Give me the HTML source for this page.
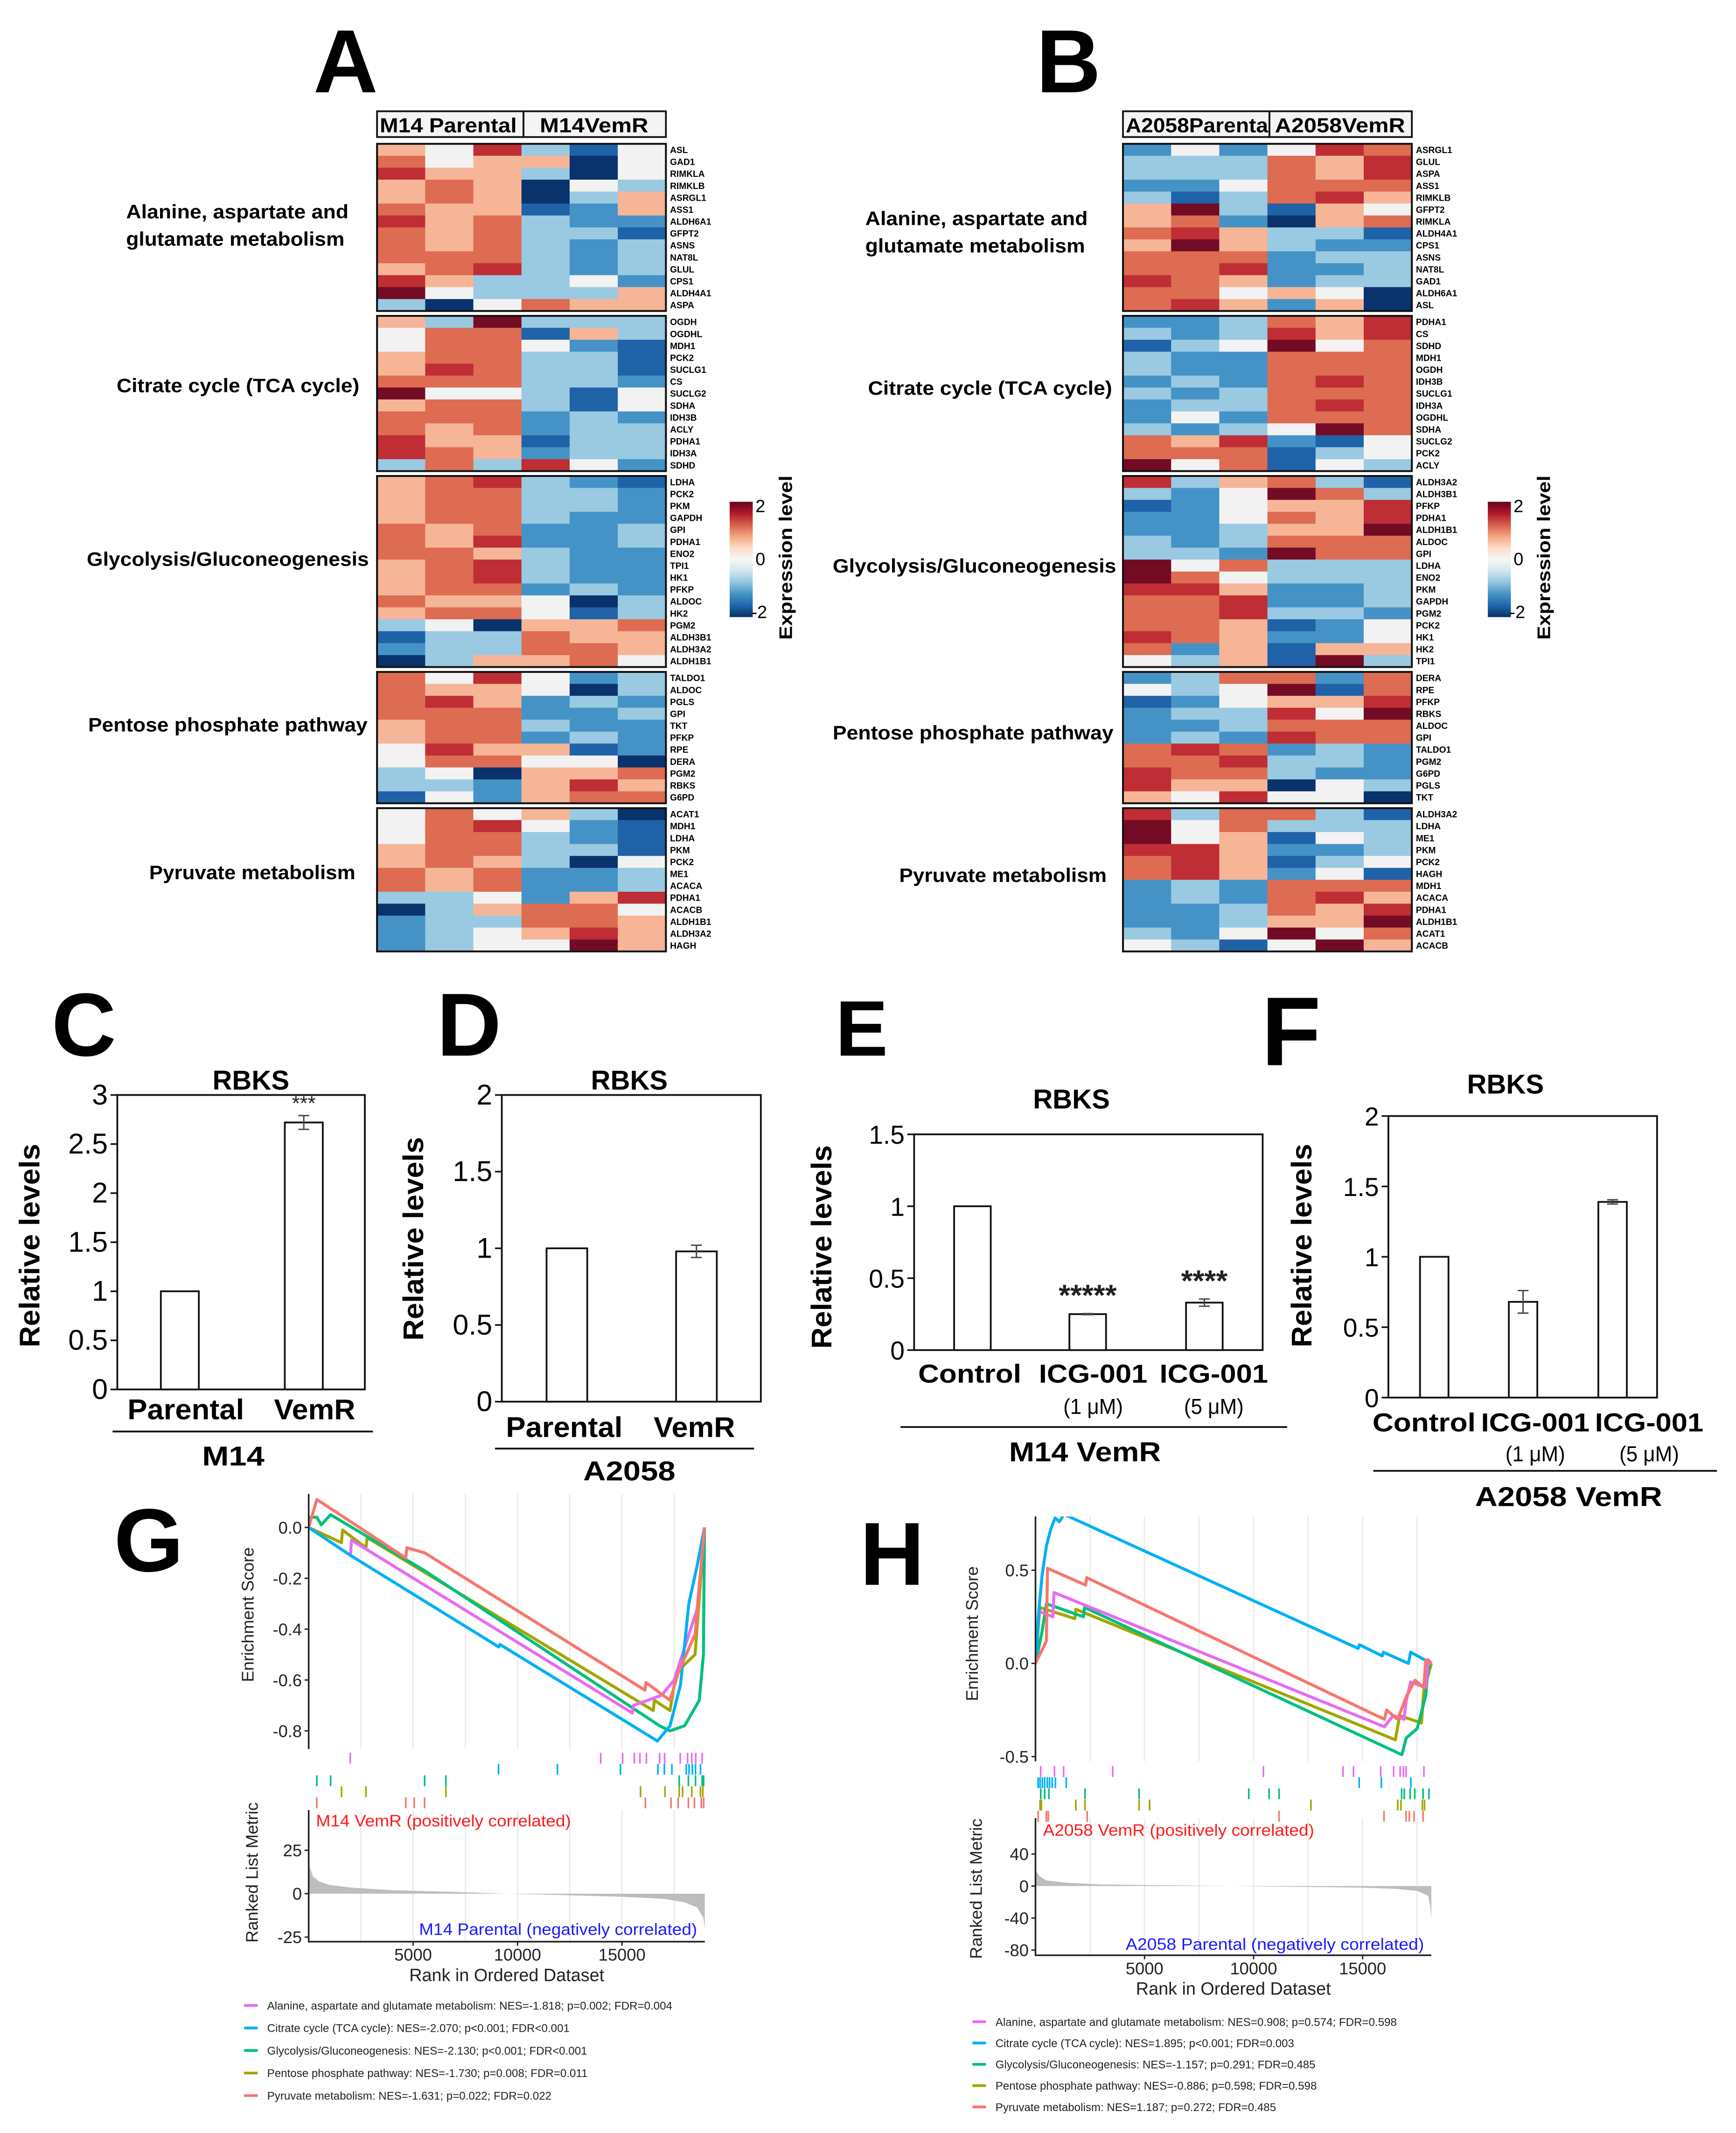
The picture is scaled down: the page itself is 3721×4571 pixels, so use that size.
<!DOCTYPE html>
<html><head><meta charset="utf-8"><style>
html,body{margin:0;padding:0;background:#fff;}
svg{display:block;}
text{font-family:"Liberation Sans",Arial,sans-serif;}
</style></head><body>
<svg id="fig" xmlns="http://www.w3.org/2000/svg" width="3721" height="4571" viewBox="0 0 1280 1572" preserveAspectRatio="none">
<rect x="0" y="0" width="1280" height="1572" fill="#fff"/>
</svg>
<script>
// ---------- Heatmap data (A: M14) ----------
const pathNames = ["Alanine, aspartate and glutamate metabolism","Citrate cycle (TCA cycle)","Glycolysis/Gluconeogenesis","Pentose phosphate pathway","Pyruvate metabolism"];
const levelScale = ["A","B","C","D","E","F","G","H","I"]; // -2 .. 2 step 0.5
const levelValues = [-2,-1.5,-1,-0.5,0,0.5,1,1.5,2];
const hmA_genes1 = ["ASL","GAD1","RIMKLA","RIMKLB","ASRGL1","ASS1","ALDH6A1","GFPT2","ASNS","NAT8L","GLUL","CPS1","ALDH4A1","ASPA"];
const hmA_data1 = ["FEHDBE","GEFFAE","HFFDAE","FGFAED","FGFADF","GFFBCF","HFGDCC","GFGDDB","GFGDCD","GGGDCD","FGHDCD","HFDDEC","IEDDDF","DAEGFF"];
const hmA_genes2 = ["OGDH","OGDHL","MDH1","PCK2","SUCLG1","CS","SUCLG2","SDHA","IDH3B","ACLY","PDHA1","IDH3A","SDHD"];
const hmA_data2 = ["FDIDDD","EGGBFD","EGGECB","FGGDDB","FHGDDB","GGGDDC","IEEDBE","FGGDBE","GGGCDC","GFGCDD","HFFBDD","HGFCDD","DGDHEC"];
const hmA_genes3 = ["LDHA","PCK2","PKM","GAPDH","GPI","PDHA1","ENO2","TPI1","HK1","PFKP","ALDOC","HK2","PGM2","ALDH3B1","ALDH3A2","ALDH1B1"];
const hmA_data3 = ["FGHDCB","FGGDDC","FGGDDC","FGGDCC","GFGCCD","GFHCCD","GGFDCC","FGHDCC","FGHDCC","FGGCDC","GFFEAD","FGGEBD","DEAFFG","BDDGFF","CDDGGF","ADFFGE"];
const hmA_genes4 = ["TALDO1","ALDOC","PGLS","GPI","TKT","PFKP","RPE","DERA","PGM2","RBKS","G6PD"];
const hmA_data4 = ["GEHECD","GFFEAD","GHFCDC","GGGCCD","FGGDCC","FGGCDC","EHFFBC","EGGEEA","DEAFFG","DDCFHF","BECFGG"];
const hmA_genes5 = ["ACAT1","MDH1","LDHA","PKM","PCK2","ME1","ACACA","PDHA1","ACACB","ALDH1B1","ALDH3A2","HAGH"];
const hmA_data5 = ["EGEFDA","EGHECB","EGGDCB","FGGDDB","FGFDAE","GFGCCD","GFGCCD","DDECFH","ADFGGE","CDDGGF","CDEFHF","CDEEIF"];
// ---------- Heatmap data (B: A2058) ----------
const hmB_genes1 = ["ASRGL1","GLUL","ASPA","ASS1","RIMKLB","GFPT2","RIMKLA","ALDH4A1","CPS1","ASNS","NAT8L","GAD1","ALDH6A1","ASL"];
const hmB_data1 = ["CECEHG","DDDGFH","DDDGFH","CCEGGG","DBDGHF","FIDBFE","FGCAFG","GHFDDB","FIFDCC","GGGCDD","GGHCCD","HGFCDD","GGEFEA","GHFCFA"];
const hmB_genes2 = ["PDHA1","CS","SDHD","MDH1","OGDH","IDH3B","SUCLG1","IDH3A","OGDHL","SDHA","SUCLG2","PCK2","ACLY"];
const hmB_data2 = ["CCDGFH","DCDHFH","BDEIEG","DCCGGG","DCCGGG","CDCGHG","DCDGGG","CDDGHG","CECGGG","DCDEIG","GFHCBE","GGGBDE","IEGBED"];
const hmB_genes3 = ["ALDH3A2","ALDH3B1","PFKP","PDHA1","ALDH1B1","ALDOC","GPI","LDHA","ENO2","PKM","GAPDH","PGM2","PCK2","HK1","HK2","TPI1"];
const hmB_data3 = ["HDFGDB","DCEIGD","BCEFFH","CCEGFH","CCDFFI","DCDGGG","DDCIGG","IEGDDD","IGEDDD","HHFCCD","GGHCCD","GGHDDC","GGFBCE","HGFCCE","GCFBFF","EDFBID"];
const hmB_genes4 = ["DERA","RPE","PFKP","RBKS","ALDOC","GPI","TALDO1","PGM2","G6PD","PGLS","TKT"];
const hmB_data4 = ["CDGGCG","EDEIBG","BCEFFH","CDDHEI","CCDGGG","CDCHGG","GHGCDC","GGHDDC","HGGDCC","HFFAED","FEHEEA"];
const hmB_genes5 = ["ALDH3A2","LDHA","ME1","PKM","PCK2","HAGH","MDH1","ACACA","PDHA1","ALDH1B1","ACAT1","ACACB"];
const hmB_data5 = ["HDGGDB","IEGDDD","IEFBED","HHFCCD","GHFBDE","GHFCEB","CDCGGG","CDCGHF","CCDGFH","CCDFFI","DCEIEG","EDBEIF"];

// ---------- Bar chart data ----------
const cCats = ["Parental","VemR"];
const cVals = [1.0, 2.72];
const cErr = [0, 0.07];
const cSig = ["", "***"];
const cTicks = ["0","0.5","1","1.5","2","2.5","3"];
const dCats = ["Parental","VemR"];
const dVals = [1.0, 0.98];
const dErr = [0, 0.04];
const dSig = ["", ""];
const dTicks = ["0","0.5","1","1.5","2"];
const eCats = ["Control","ICG-001","ICG-001"];
const eSub = ["","(1  μM)","(5  μM)"];
const eVals = [1.0, 0.25, 0.33];
const eErr = [0, 0.004, 0.025];
const eSig = ["", "*****", "****"];
const eTicks = ["0","0.5","1","1.5"];
const fCats = ["Control","ICG-001","ICG-001"];
const fSub = ["","(1  μM)","(5  μM)"];
const fVals = [1.0, 0.68, 1.39];
const fErr = [0, 0.08, 0.015];
const fSig = ["", "", ""];
const fTicks = ["0","0.5","1","1.5","2"];

// ---------- GSEA G (M14) ----------
const gTicksES = [0.0,-0.2,-0.4,-0.6,-0.8];
const gTicksES_lbl = ["0.0","-0.2","-0.4","-0.6","-0.8"];
const gTicksMetric = [25,0,-25];
const gTicksRank = [5000,10000,15000];
const gR_ala = [0,2000,2050,15500,15550,16900,17500,18600,18950];
const gE_ala = [0.0,-0.11,-0.05,-0.73,-0.70,-0.66,-0.6,-0.32,0];
const gR_tca = [0,2000,9100,9150,16700,17300,17800,18200,18600,18950];
const gE_tca = [0,-0.11,-0.47,-0.46,-0.84,-0.78,-0.62,-0.30,-0.15,0];
const gR_gly = [0,390,600,1050,5550,16800,17300,18000,18700,18900,18950];
const gE_gly = [0.04,0.04,0.01,0.05,-0.17,-0.78,-0.8,-0.78,-0.68,-0.5,0];
const gR_ppp = [0,1570,1620,2740,2800,16500,16550,17300,17600,18500,18950];
const gE_ppp = [0.0,-0.06,-0.01,-0.08,-0.04,-0.72,-0.68,-0.72,-0.57,-0.5,0];
const gR_pyr = [0,390,4650,4700,5550,16100,16150,17300,17700,18500,18950];
const gE_pyr = [0.0,0.11,-0.12,-0.08,-0.1,-0.64,-0.61,-0.68,-0.57,-0.42,0];
const gH_ala = [1990,13980,15030,15590,15860,16170,16800,17040,17790,18140,18340,18530,18840];
const gH_tca = [9090,11910,14930,16720,17030,17390,18080,18210,18370,18520,18760];
const gH_gly = [390,1050,5550,6570,17740,18180,18520,18840,18910];
const gH_ppp = [1570,2740,6570,15890,17060,17740,17900,18340,18760,18870];
const gH_pyr = [390,4650,5050,5550,16120,17350,17690,18180,18470,18800,18910];
const gMetricRank = [0,200,500,1000,2000,4000,7000,9500,12000,15000,17000,18000,18600,18900,18966];
const gMetricVal = [17,10,7,5,3.5,2,1,0,-0.8,-1.8,-3,-5,-8,-14,-20];
const gLegend = ["Alanine, aspartate and glutamate metabolism: NES=-1.818; p=0.002; FDR=0.004","Citrate cycle (TCA cycle): NES=-2.070; p<0.001; FDR<0.001","Glycolysis/Gluconeogenesis: NES=-2.130; p<0.001; FDR<0.001","Pentose phosphate pathway: NES=-1.730; p=0.008; FDR=0.011","Pyruvate metabolism: NES=-1.631; p=0.022; FDR=0.022"];

// ---------- GSEA H (A2058) ----------
const hTicksES = [0.5,0.0,-0.5];
const hTicksES_lbl = ["0.5","0.0","-0.5"];
const hTicksMetric = [40,0,-40,-80];
const hTicksRank = [5000,10000,15000];
const hR_ala = [0,150,800,850,16000,16400,16900,17000,17200,17900,18000,18150];
const hE_ala = [0,0.28,0.25,0.38,-0.34,-0.28,-0.3,-0.2,-0.1,-0.13,0.02,0];
const hR_tca = [0,150,300,500,700,900,1100,1300,14800,14850,15900,15950,17100,17200,18150];
const hE_tca = [0,0.28,0.47,0.63,0.72,0.78,0.76,0.8,0.08,0.1,0.04,0.06,0.0,0.06,0.0];
const hR_gly = [0,300,500,2200,2250,16800,17000,17500,17900,18000,18150];
const hE_gly = [0,0.17,0.32,0.25,0.3,-0.49,-0.4,-0.35,-0.17,-0.02,-0.02];
const hR_ppp = [0,200,1800,1850,16500,16700,17700,17800,18150];
const hE_ppp = [0,0.3,0.24,0.29,-0.41,-0.28,-0.32,-0.15,0];
const hR_pyr = [0,500,550,2300,2350,16000,16100,16600,17000,17400,17800,17900,18150];
const hE_pyr = [0,0.12,0.51,0.42,0.46,-0.3,-0.25,-0.3,-0.18,-0.09,-0.13,0.02,0];
const hH_ala = [240,870,1290,3540,10450,14100,14580,15830,16420,16720,16870,16990,17810];
const hH_tca = [120,210,315,420,540,645,765,915,1410,14840,15860,17210];
const hH_gly = [240,420,615,2270,4750,9780,10710,11170,16790,16910,17180,17390,17770,18040];
const hH_ppp = [210,270,1850,2270,4750,5230,12630,16610,16760,17740,17840];
const hH_pyr = [120,495,585,2370,11170,15980,16990,17140,17360,17770];
const hMetricRank = [0,200,500,1500,3000,6000,9000,12000,15000,16500,17500,18000,18100,18150];
const hMetricVal = [20,12,7,4,2,1,0,-1,-2,-3.5,-6,-12,-25,-40];
const hLegend = ["Alanine, aspartate and glutamate metabolism: NES=0.908; p=0.574; FDR=0.598","Citrate cycle (TCA cycle): NES=1.895; p<0.001; FDR=0.003","Glycolysis/Gluconeogenesis: NES=-1.157; p=0.291; FDR=0.485","Pentose phosphate pathway: NES=-0.886; p=0.598; FDR=0.598","Pyruvate metabolism: NES=1.187; p=0.272; FDR=0.485"];
const seriesColors = ["#E76BF3","#00B0F6","#00BF7D","#A3A500","#F8766D"];
const seriesKeys = ["alanine","tca","glycolysis","pentose","pyruvate"];

// ---------- helpers ----------
const NS = "http://www.w3.org/2000/svg";
const svg = document.getElementById("fig");
function mk(tag, attrs, parent){ const e=document.createElementNS(NS,tag); for(const k in attrs) e.setAttribute(k,attrs[k]); (parent||svg).appendChild(e); return e; }
function tx(s, attrs, parent){ const e=mk("text",attrs,parent); e.textContent=s; return e; }
const cellColors = ["#0a326c","#1f62a8","#4593c6","#9ac9e2","#f2f2f2","#f6b597","#dd6c52","#bf2d35","#730b25"];
function levelColor(ch){ return cellColors[levelScale.indexOf(ch)]; }

// ---------- panel letters ----------
function letter(s, x, y, size){
  const e = tx(s,{x:x,y:y,"font-size":size,"font-weight":"bold"});
  
  
}
letter("A",231,68,66); letter("B",764,68,66);
letter("C",38,778,66); letter("D",322,778,66);
letter("E",616,778,58); letter("F",930,785,72);
letter("G",84,1158,66); letter("H",634,1168,66);

// ---------- heatmaps ----------
function heatmap(cfg, genes, data){
  const g = mk("g",{});
  
  
  const cw = (cfg.x1-cfg.x0)/6;
  const hd1 = mk("rect",{x:cfg.x0,y:82,width:cfg.xm-cfg.x0,height:19,fill:"#f4f4f4",stroke:"#111","stroke-width":1.3},g);
  
  
  const hd2 = mk("rect",{x:cfg.xm,y:82,width:cfg.x1-cfg.xm,height:19,fill:"#f4f4f4",stroke:"#111","stroke-width":1.3},g);
  
  
  const t1 = tx(cfg.h1,{x:cfg.x0+2,y:97.5,"font-size":15,"font-weight":"bold",textLength:cfg.h1w,lengthAdjust:"spacingAndGlyphs"},g);
  
  
  const t2 = tx(cfg.h2,{x:cfg.h2x,y:97.5,"font-size":15,"font-weight":"bold",textLength:cfg.h2w,lengthAdjust:"spacingAndGlyphs"},g);
  
  
  let y = 106; const rh = 8.8;
  for(let b=0;b<5;b++){
    const rows = data[b];
    const top = y;
    rows.forEach((row,ri)=>{
      for(let c=0;c<6;c++){
        const r = mk("rect",{x:cfg.x0+c*cw,y:y,width:cw+0.3,height:rh+0.3,fill:levelColor(row[c])},g);
        
        
      }
      const gl = tx(genes[b][ri],{x:cfg.x1+3,y:y+rh/2+2.4,"font-size":6.6,"font-weight":"bold"},g);
      
      
      y += rh;
    });
    const br = mk("rect",{x:cfg.x0,y:top,width:cfg.x1-cfg.x0,height:y-top,fill:"none",stroke:"#111","stroke-width":1.4},g);
    
    
    const pl = cfg.labels[b];
    pl.lines.forEach((ln,li)=>{
      const e = tx(ln[0],{x:ln[1],y:pl.y+li*20,"font-size":14.5,"font-weight":"bold",textLength:ln[2],lengthAdjust:"spacingAndGlyphs"},g);
      
      
    });
    y += 3.6;
  }
  const defs = mk("defs",{},g);
  const lg = mk("linearGradient",{id:cfg.name+"-grad",x1:0,y1:0,x2:0,y2:1},defs);
  const stops = ["#67001f","#b2182b","#d6604d","#f4a582","#fddbc7","#f7f7f7","#d1e5f0","#92c5de","#4393c3","#2166ac","#053061"];
  stops.forEach((s,i)=>mk("stop",{offset:(i/(stops.length-1)),"stop-color":s},lg));
  const cb = mk("rect",{x:cfg.cbx,y:369.8,width:17,height:85,fill:"url(#"+cfg.name+"-grad)"},g);
  
  
  [["2",377.5],["0",416.5],["-2",455.5]].forEach(l=>{
    const e = tx(l[0],{x:cfg.cbx+(l[0]==="-2"?16:19),y:l[1],"font-size":13});
    
    
  });
  const ct = tx("Expression level",{x:0,y:0,"font-size":13.5,"font-weight":"bold","text-anchor":"middle",transform:"translate("+(cfg.cbx+46)+",411) rotate(-90)",textLength:121,lengthAdjust:"spacingAndGlyphs"},g);
  
  
}
heatmap({name:"heatmap-a",x0:278,xm:386,x1:491,h1:"M14 Parental",h1w:101,h2:"M14VemR",h2x:398,h2w:80,cbx:538,
  labels:[{y:161,lines:[["Alanine, aspartate and",93,164],["glutamate metabolism",93,161]]},{y:289,lines:[["Citrate cycle (TCA cycle)",86,179]]},{y:417,lines:[["Glycolysis/Gluconeogenesis",64,208]]},{y:539,lines:[["Pentose phosphate pathway",65,206]]},{y:648,lines:[["Pyruvate metabolism",110,152]]}]},
  [hmA_genes1,hmA_genes2,hmA_genes3,hmA_genes4,hmA_genes5],[hmA_data1,hmA_data2,hmA_data3,hmA_data4,hmA_data5]);
heatmap({name:"heatmap-b",x0:828,xm:936,x1:1041,h1:"A2058Parenta",h1w:105,h2:"A2058VemR",h2x:940,h2w:96,cbx:1097,
  labels:[{y:166,lines:[["Alanine, aspartate and",638,164],["glutamate metabolism",638,162]]},{y:291,lines:[["Citrate cycle (TCA cycle)",640,180]]},{y:422,lines:[["Glycolysis/Gluconeogenesis",614,209]]},{y:545,lines:[["Pentose phosphate pathway",614,207]]},{y:650,lines:[["Pyruvate metabolism",663,153]]}]},
  [hmB_genes1,hmB_genes2,hmB_genes3,hmB_genes4,hmB_genes5],[hmB_data1,hmB_data2,hmB_data3,hmB_data4,hmB_data5]);

// ---------- bar charts ----------
function barChart(L, cats, sub, vals, errs, sig, ticks){
  const g = mk("g",{});
  
  
  const yS = v => L.y0 - v/L.max*(L.y0-L.yTop);
  const frame = mk("rect",{x:L.x0,y:L.yTop,width:L.x1-L.x0,height:L.y0-L.yTop,fill:"none",stroke:"#111","stroke-width":1.3},g);
  
  
  ticks.forEach(t=>{
    const v = parseFloat(t); const yy = yS(v);
    const tk = mk("line",{x1:L.x0-5,x2:L.x0,y1:yy,y2:yy,stroke:"#111","stroke-width":1.2},g);
    
    
    const tl = tx(t,{x:L.x0-7,y:yy+7,"font-size":L.fs,"text-anchor":"end"},g);
    
    
  });
  cats.forEach((c,i)=>{
    const cx = L.centers[i]; const v = vals[i];
    const b = mk("rect",{x:cx-L.bw/2,y:yS(v),width:L.bw,height:L.y0-yS(v),fill:"#fff",stroke:"#111","stroke-width":1.3},g);
    
    
    if(errs[i]>0){
      const e1 = mk("path",{d:"M"+cx+" "+yS(v+errs[i])+"V"+yS(v-errs[i])+"M"+(cx-4)+" "+yS(v+errs[i])+"H"+(cx+4)+"M"+(cx-4)+" "+yS(v-errs[i])+"H"+(cx+4),stroke:"#444","stroke-width":1,fill:"none"},g);
      
      
    }
    if(sig[i]){
      const s = tx(sig[i],{x:cx,y:yS(v+errs[i])-L.sigOff,"font-size":L.sigFs,"font-weight":L.sigW,"text-anchor":"middle",fill:"#222"},g);
      
      
    }
    const lb = tx(c,{x:L.labX[i],y:L.labY,"font-size":L.lfs,"font-weight":"bold","text-anchor":"middle",textLength:L.labW[i],lengthAdjust:"spacingAndGlyphs"},g);
    
    
    if(sub && sub[i]){
      const sl = tx(sub[i],{x:L.labX[i],y:L.subY,"font-size":16,"text-anchor":"middle",textLength:44,lengthAdjust:"spacingAndGlyphs"},g);
      
      
    }
  });
  const gl = mk("line",{x1:L.gx0,x2:L.gx1,y1:L.gy,y2:L.gy,stroke:"#111","stroke-width":1.3},g);
  
  
  const gt = tx(L.group,{x:L.gcx,y:L.gty,"font-size":20,"font-weight":"bold","text-anchor":"middle",textLength:L.gtw,lengthAdjust:"spacingAndGlyphs"},g);
  
  
  const tt = tx("RBKS",{x:L.tx,y:L.ty,"font-size":20,"font-weight":"bold","text-anchor":"middle"},g);
  
  
  const yt = tx("Relative levels",{x:0,y:0,"font-size":21,"font-weight":"bold","text-anchor":"middle",transform:"translate("+L.ytx+","+L.yty+") rotate(-90)",textLength:150,lengthAdjust:"spacingAndGlyphs"},g);
  
  
}
barChart({name:"chart-c",x0:86.5,x1:269,yTop:807,y0:1024,max:3,centers:[132.6,224],bw:28,fs:21,lfs:21,labX:[137,232],labW:[86,60],labY:1046,
  sigOff:4,sigFs:15,sigW:"normal",gx0:83,gx1:275,gy:1055,group:"M14",gcx:172,gty:1080,gtw:46,tx:185,ty:803,ytx:29,yty:918},cCats,null,cVals,cErr,cSig,cTicks);
barChart({name:"chart-d",x0:370,x1:561,yTop:807,y0:1033,max:2,centers:[418,513.5],bw:30,fs:21,lfs:21,labX:[416,512],labW:[86,60],labY:1059,
  sigOff:4,sigFs:15,sigW:"normal",gx0:365,gx1:556,gy:1067.6,group:"A2058",gcx:464,gty:1091,gtw:68,tx:464,ty:803,ytx:312,yty:913},dCats,null,dVals,dErr,dSig,dTicks);
barChart({name:"chart-e",x0:674,x1:931,yTop:836,y0:995,max:1.5,centers:[717,802,888],bw:27,fs:19,lfs:19,labX:[715,806,895],labW:[76,80,80],labY:1019,subY:1042,
  sigOff:6,sigFs:22,sigW:"bold",gx0:664,gx1:949,gy:1051.7,group:"M14 VemR",gcx:800,gty:1077,gtw:112,tx:790,ty:817,ytx:613,yty:919},eCats,eSub,eVals,eErr,eSig,eTicks);
barChart({name:"chart-f",x0:1023.7,x1:1221.8,yTop:822.5,y0:1030,max:2,centers:[1057.5,1123,1189],bw:21,fs:19,lfs:19,labX:[1050,1132,1216],labW:[76,80,80],labY:1055,subY:1077,
  sigOff:6,sigFs:22,sigW:"bold",gx0:1012.6,gx1:1266,gy:1084,group:"A2058 VemR",gcx:1156.6,gty:1110,gtw:138,tx:1110,ty:806,ytx:967,yty:918},fCats,fSub,fVals,fErr,fSig,fTicks);

// ---------- GSEA plots ----------
function gsea(L, ranks, ess, hits, mR, mV, esTicks, esLbl, mTicks, rTicks, legend){
  const g = mk("g",{});
  
  
  const xS = r => L.x0 + r*L.kx;
  const yE = v => L.ez - v*L.ke;
  const yM = v => L.mz - v*L.km;
  const xEnd = xS(L.rmax);
  for(let r=2500;r<L.rmax;r+=2500){
    [[L.eTop,L.eBot],[L.mTop,L.axY]].forEach(p=>{
      const gl = mk("line",{x1:xS(r),x2:xS(r),y1:p[0],y2:p[1],stroke:"#ebebeb","stroke-width":1},g);
      
      
    });
  }
  const cid = L.name+"-clip";
  const defs = mk("defs",{},g);
  const cp = mk("clipPath",{id:cid},defs);
  mk("rect",{x:L.x0,y:L.eTop,width:xEnd-L.x0+3,height:L.eBot-L.eTop},cp);
  let d = "M"+xS(mR[0])+" "+yM(0);
  mR.forEach((r,i)=>{ d += "L"+xS(r)+" "+yM(mV[i]); });
  d += "L"+xS(mR[mR.length-1])+" "+yM(0)+"Z";
  const ma = mk("path",{d:d,fill:"#bdbdbd",stroke:"none"},g);
  
  
  const order = [3,2,0,1,4];
  order.forEach(si=>{
    let pd = "";
    ranks[si].forEach((r,i)=>{ pd += (i?"L":"M")+xS(r).toFixed(2)+" "+yE(ess[si][i]).toFixed(2); });
    const p = mk("path",{d:pd,fill:"none",stroke:seriesColors[si],"stroke-width":2.2,"clip-path":"url(#"+cid+")","stroke-linejoin":"round"},g);
    
    
  });
  hits.forEach((hs,si)=>{
    const yc = L.hitY[si];
    hs.forEach(r=>{
      const h = mk("line",{x1:xS(r),x2:xS(r),y1:yc-4,y2:yc+4,stroke:seriesColors[si],"stroke-width":1.2},g);
      
      
    });
  });
  const ax = mk("path",{d:"M"+L.x0+" "+L.eTop+"V"+L.eBot+"M"+L.x0+" "+L.mTop+"V"+L.axY+"H"+xEnd,stroke:"#222","stroke-width":1.2,fill:"none"},g);
  
  
  esTicks.forEach((v,i)=>{
    const t = mk("line",{x1:L.x0-3,x2:L.x0,y1:yE(v),y2:yE(v),stroke:"#222","stroke-width":1},g);
    
    
    const tl = tx(esLbl[i],{x:L.x0-5,y:yE(v)+4.5,"font-size":12.5,"text-anchor":"end",fill:"#222"},g);
    
    
  });
  mTicks.forEach(v=>{
    const t = mk("line",{x1:L.x0-3,x2:L.x0,y1:yM(v),y2:yM(v),stroke:"#222","stroke-width":1},g);
    
    
    const tl = tx(String(v),{x:L.x0-5,y:yM(v)+4.5,"font-size":12.5,"text-anchor":"end",fill:"#222"},g);
    
    
  });
  rTicks.forEach(r=>{
    const t = mk("line",{x1:xS(r),x2:xS(r),y1:L.axY,y2:L.axY+3,stroke:"#222","stroke-width":1},g);
    
    
    const tl = tx(String(r),{x:xS(r),y:L.axY+14,"font-size":12.5,"text-anchor":"middle",fill:"#222"},g);
    
    
  });
  const xt = tx("Rank in Ordered Dataset",{x:(L.x0+xEnd)/2,y:L.axY+29,"font-size":13,"text-anchor":"middle",fill:"#222"},g);
  
  
  const et = tx("Enrichment Score",{x:0,y:0,"font-size":12.5,"text-anchor":"middle",fill:"#222",transform:"translate("+L.etx+","+L.ety+") rotate(-90)"},g);
  
  
  const mt = tx("Ranked List Metric",{x:0,y:0,"font-size":12.5,"text-anchor":"middle",fill:"#222",transform:"translate("+L.mtx+","+L.mty+") rotate(-90)"},g);
  
  
  const pt = tx(L.pos,{x:L.posX,y:L.posY,"font-size":12,fill:"#ff1a1a",textLength:L.posW,lengthAdjust:"spacingAndGlyphs"},g);
  
  
  const nt = tx(L.neg,{x:L.negX,y:L.negY,"font-size":12,fill:"#1a1aff","text-anchor":"end",textLength:L.negW,lengthAdjust:"spacingAndGlyphs"},g);
  
  
  legend.forEach((s,i)=>{
    const yy = L.legY + i*L.legDy;
    const sw = mk("line",{x1:L.legX,x2:L.legX+10,y1:yy,y2:yy,stroke:seriesColors[i],"stroke-width":2},g);
    
    
    const lt = tx(s,{x:L.legX+17,y:yy+3,"font-size":8.3,fill:"#222"},g);
    
    
  });
}
gsea({name:"gsea-g",x0:227.6,kx:0.0154,rmax:18966,ez:1125.7,ke:187.4,eTop:1101,eBot:1289,mz:1395.6,km:1.28,mTop:1334,axY:1431,
  hitY:[1295.8,1304,1312.4,1320.5,1328.7],etx:187,ety:1190,mtx:190,mty:1380,
  pos:"M14 VemR (positively correlated)",posX:233,posY:1346,posW:188,neg:"M14 Parental (negatively correlated)",negX:514,negY:1426,negW:205,
  legX:180,legY:1478,legDy:16.6},
  [gR_ala,gR_tca,gR_gly,gR_ppp,gR_pyr],[gE_ala,gE_tca,gE_gly,gE_ppp,gE_pyr],[gH_ala,gH_tca,gH_gly,gH_ppp,gH_pyr],
  gMetricRank,gMetricVal,gTicksES,gTicksES_lbl,gTicksMetric,gTicksRank,gLegend);
gsea({name:"gsea-h",x0:763.5,kx:0.01608,rmax:18150,ez:1225.9,ke:137.4,eTop:1117.6,eBot:1298,mz:1390,km:0.59,mTop:1340,axY:1441,
  hitY:[1305.6,1313.8,1322,1330.3,1338.6],etx:721,ety:1204,mtx:724,mty:1392,
  pos:"A2058 VemR (positively correlated)",posX:769,posY:1353,posW:200,neg:"A2058 Parental (negatively correlated)",negX:1050,negY:1437,negW:220,
  legX:717,legY:1490,legDy:15.7},
  [hR_ala,hR_tca,hR_gly,hR_ppp,hR_pyr],[hE_ala,hE_tca,hE_gly,hE_ppp,hE_pyr],[hH_ala,hH_tca,hH_gly,hH_ppp,hH_pyr],
  hMetricRank,hMetricVal,hTicksES,hTicksES_lbl,hTicksMetric,hTicksRank,hLegend);
</script>
</body></html>
